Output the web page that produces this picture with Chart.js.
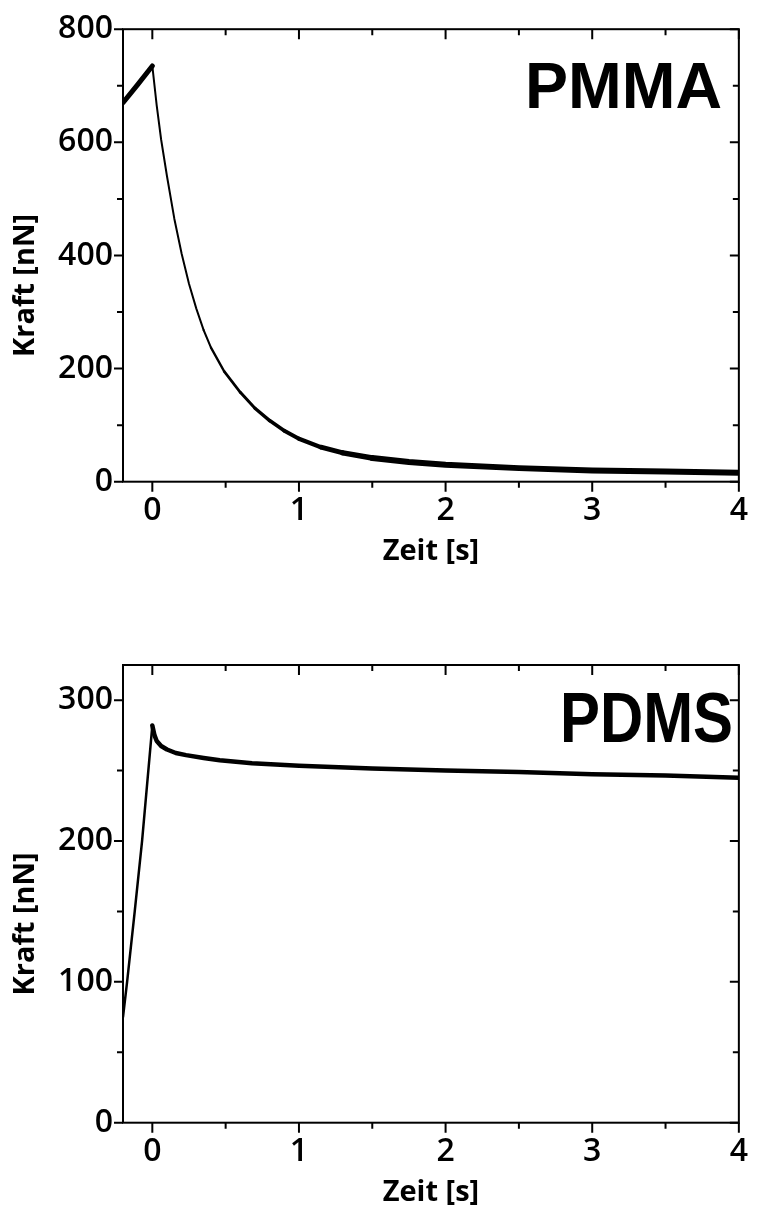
<!DOCTYPE html>
<html>
<head>
<meta charset="utf-8">
<script src="https://cdn.jsdelivr.net/npm/chart.js@4/dist/chart.umd.min.js"></script>
<style>
  html, body { margin: 0; padding: 0; background: #fff; }
  #wrap { position: relative; width: 758px; height: 1212px; }
  canvas { position: absolute; left: 0; }
  #pmmaChart { top: 0; }
  #pdmsChart { top: 606px; }
</style>
</head>
<body>
<div id="wrap">
  <canvas id="pmmaChart" width="758" height="606"></canvas>
  <canvas id="pdmsChart" width="758" height="606"></canvas>
</div>
<script>
// shared x axis (Zeit in s)
const xMajor = [0, 1, 2, 3, 4];
const xMinor = [0.5, 1.5, 2.5, 3.5];

// PMMA
const pmmaTime  = [-0.2, -0.1, 0, 0.03, 0.06, 0.1, 0.15, 0.2, 0.25, 0.3, 0.35, 0.4, 0.49, 0.6, 0.7, 0.8, 0.9, 1.0, 1.15, 1.3, 1.5, 1.75, 2.0, 2.5, 3.0, 3.5, 4.0];
const pmmaForce = [670, 702, 735, 665, 605, 540, 465, 403, 350, 306, 268, 237, 195, 158, 130, 108, 90, 76, 61, 51, 42, 35, 30, 24, 20, 18, 16];
const pmmaYMajor = [0, 200, 400, 600, 800];
const pmmaYMinor = [100, 300, 500, 700];

// PDMS
const pdmsTime  = [-0.2, -0.172, -0.12, -0.07, 0, 0.015, 0.03, 0.06, 0.1, 0.16, 0.23, 0.35, 0.46, 0.68, 1.0, 1.5, 2.0, 2.5, 3.0, 3.5, 4.0];
const pdmsForce = [75, 100, 150, 200, 282, 275, 271, 267.5, 265, 262.5, 261, 259, 257.4, 255.2, 253.5, 251.5, 250, 249, 247.5, 246.5, 245];
const pdmsYMajor = [0, 100, 200, 300];
const pdmsYMinor = [50, 150, 250];

window.onload = function() {
  createForceChart("pmmaChart", {
    name: "PMMA", time: pmmaTime, force: pmmaForce,
    yMax: 800, yMajor: pmmaYMajor, yMinor: pmmaYMinor,
    padTop: 24.7, xAxisHeight: 124.3,
    label: { right: 722, baseline: 108, size: 64, width: 197 },
    lineWidth: x => x < 0 ? 5 : 2 + 4 * Math.min(1, Math.max(0, (x - 0.35) / 1.2))
  });
  createForceChart("pdmsChart", {
    name: "PDMS", time: pdmsTime, force: pdmsForce,
    yMax: 325, yMajor: pdmsYMajor, yMinor: pdmsYMinor,
    padTop: 59, xAxisHeight: 89.3,
    label: { right: 733, baseline: 136, size: 70, width: 173 },
    lineWidth: x => x < 0 ? 2.5 : 4.5
  });

  function createForceChart(selector, cfg) {
    const ctx = document.getElementById(selector).getContext("2d");
    const tickFont = { family: "'Open Sans'", size: 32, weight: "600" };

    const framePlugin = {
      id: "frame",
      afterDraw(chart) {
        const c = chart.ctx;
        const a = chart.chartArea;
        const xs = chart.scales.x, ys = chart.scales.y;
        c.save();
        c.strokeStyle = "#000";
        c.lineWidth = 2;
        c.strokeRect(a.left, a.top, a.right - a.left, a.bottom - a.top);
        c.beginPath();
        const tickX = (vals, len) => vals.forEach(v => {
          const px = xs.getPixelForValue(v);
          c.moveTo(px, a.bottom); c.lineTo(px, a.bottom + len);
          c.moveTo(px, a.top); c.lineTo(px, a.top + len);
        });
        const tickY = (vals, len) => vals.forEach(v => {
          const py = ys.getPixelForValue(v);
          c.moveTo(a.left, py); c.lineTo(a.left - len, py);
          c.moveTo(a.right, py); c.lineTo(a.right - len, py);
        });
        tickX(xMajor, 10); tickX(xMinor, 6);
        tickY(cfg.yMajor, 9); tickY(cfg.yMinor, 6);
        c.stroke();

        // axis titles
        c.fillStyle = "#000";
        c.font = "bold 29px 'Open Sans'";
        c.textAlign = "center";
        c.textBaseline = "middle";
        c.fillText("Zeit [s]", (a.left + a.right) / 2, a.bottom + 70);
        c.save();
        c.translate(26, (a.top + a.bottom) / 2 + 30);
        c.rotate(-Math.PI / 2);
        c.fillText("Kraft [nN]", 0, 0);
        c.restore();

        // material label
        const L = cfg.label;
        c.font = "bold " + L.size + "px 'Liberation Sans'";
        c.textAlign = "left";
        c.textBaseline = "alphabetic";
        const w = c.measureText(cfg.name).width;
        c.translate(L.right - L.width, L.baseline);
        c.scale(L.width / w, 1);
        c.fillText(cfg.name, 0, 0);
        c.restore();
      }
    };

    const chart = new Chart(ctx, {
      type: "line",
      data: {
        datasets: [
          {
            data: cfg.time.map((t, i) => ({ x: t, y: cfg.force[i] })),
            borderColor: "#000",
            borderWidth: 3,
            borderCapStyle: "round",
            borderJoinStyle: "round",
            pointRadius: 0,
            tension: 0,
            segment: {
              borderWidth: s => cfg.lineWidth((s.p0.parsed.x + s.p1.parsed.x) / 2)
            }
          }
        ]
      },
      options: {
        responsive: false,
        animation: false,
        layout: { padding: { top: cfg.padTop, right: 16, left: 0, bottom: 0 } },
        plugins: { legend: { display: false }, tooltip: { enabled: false } },
        scales: {
          x: {
            type: "linear",
            min: -0.2,
            max: 4,
            afterBuildTicks: s => { s.ticks = xMajor.map(v => ({ value: v })); },
            afterFit: s => { s.height = cfg.xAxisHeight; },
            grid: { display: false, drawTicks: false },
            border: { display: false },
            ticks: { font: tickFont, color: "#000", padding: 10, maxRotation: 0, autoSkip: false }
          },
          y: {
            min: 0,
            max: cfg.yMax,
            afterBuildTicks: s => { s.ticks = cfg.yMajor.map(v => ({ value: v })); },
            afterFit: s => { s.width = 123; },
            grid: { display: false, drawTicks: false },
            border: { display: false },
            ticks: { font: tickFont, color: "#000", padding: 10, autoSkip: false }
          }
        }
      },
      plugins: [framePlugin]
    });

    return chart;
  }
};
</script>
</body>
</html>
